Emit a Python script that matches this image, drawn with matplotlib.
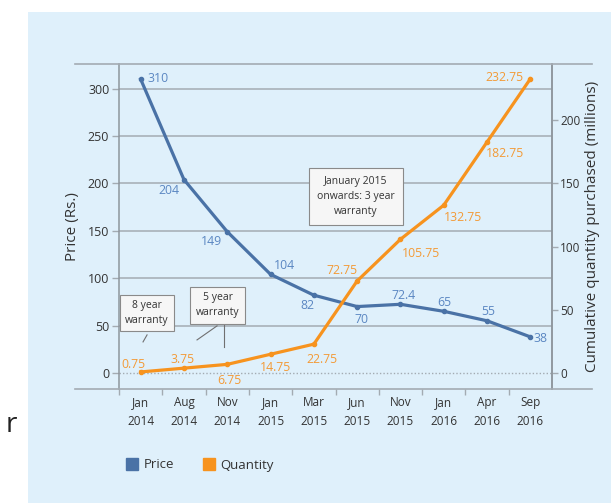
import matplotlib
matplotlib.use('Agg')
import matplotlib.pyplot as plt
from matplotlib.lines import Line2D
from matplotlib.patches import Rectangle

# chart data
months = ['Jan\n2014', 'Aug\n2014', 'Nov\n2014', 'Jan\n2015', 'Mar\n2015',
          'Jun\n2015', 'Nov\n2015', 'Jan\n2016', 'Apr\n2016', 'Sep\n2016']
price = [310, 204, 149, 104, 82, 70, 72.4, 65, 55, 38]
quantity = [0.75, 3.75, 6.75, 14.75, 22.75, 72.75, 105.75, 132.75, 182.75, 232.75]
right_ticks = [0, 50, 100, 150, 200]

# label offsets in pixels (dx, dy)
price_off = [(17, 1), (-15, -11), (-16, -10), (14, 9), (-6, -10),
             (4, -13), (3, 9), (1, 9), (1, 9), (10, -2)]
qty_off = [(-7, 7), (-1, 9), (2, -16), (5, -13), (8, -15),
           (-15, 10), (21, -14), (19, -12), (18, -11), (-26, 1)]

BLUE = '#4a72a6'
BLUE_TXT = '#5b87c2'
ORANGE = '#f7931e'
ORANGE_TXT = '#f39a36'
GRID = '#a3abb2'
TXT = '#333333'
BG = '#dff0fb'

plt.rcParams['font.family'] = ['Open Sans', 'DejaVu Sans']

fig = plt.figure(figsize=(6.11, 5.03), dpi=100)
fig.patches.append(Rectangle((28 / 611, 0), 1, 1 - 12 / 503, transform=fig.transFigure,
                             facecolor=BG, edgecolor='none', zorder=-10))

ax = fig.add_axes([119 / 611, 1 - 389 / 503, (552 - 119) / 611, (389 - 64) / 503])
ax.set_facecolor('none')
x = list(range(len(months)))

ax.set_xlim(-0.5, len(months) - 0.5)
ax.set_ylim(-17, 326)
ax.set_yticks([0, 50, 100, 150, 200, 250, 300])
for v in [50, 100, 150, 200, 250, 300]:
    ax.axhline(v, color=GRID, lw=1.1, zorder=0)
ax.axhline(0, color=GRID, lw=1.0, ls=(0, (1, 1.5)), zorder=0)

ax.plot(x, price, color=BLUE, lw=2.3, marker='o', ms=3, zorder=3)
for xi, v, (dx, dy) in zip(x, price, price_off):
    ax.annotate(f'{v:g}', (xi, v), xytext=(dx, dy), textcoords='offset pixels',
                ha='center', va='center', fontsize=8.8, color=BLUE_TXT)

ax.set_xticks(x)
ax.set_xticklabels(months, fontsize=8.5, color=TXT, linespacing=1.6)
ax.set_xticks([i + 0.5 for i in x[:-1]] + [-0.5], minor=True)
ax.tick_params(axis='x', which='major', length=0, pad=5)
ax.tick_params(axis='x', which='minor', length=4, color=GRID, width=1)
ax.tick_params(axis='y', length=5, color=GRID, width=1, labelsize=9, labelcolor=TXT, pad=2)
ax.set_ylabel('Price (Rs.)', fontsize=11, color=TXT, labelpad=6)

for s in ['top', 'bottom']:
    ax.spines[s].set_visible(False)
for s in ['left', 'right']:
    ax.spines[s].set_color('#8e969d')
    ax.spines[s].set_linewidth(1.1)

ax2 = ax.twinx()
ax2.set_ylim(-17 * 0.75, 326 * 0.75)
ax2.set_yticks(right_ticks)
ax2.tick_params(axis='y', length=4, color=GRID, width=1, labelsize=8.5, labelcolor=TXT, pad=2)
for s in ['top', 'bottom', 'left']:
    ax2.spines[s].set_visible(False)
ax2.spines['right'].set_color('#8e969d')
ax2.spines['right'].set_linewidth(1.1)
ax2.plot(x, quantity, color=ORANGE, lw=2.3, marker='o', ms=3, zorder=3)
for xi, v, (dx, dy) in zip(x, quantity, qty_off):
    ax2.annotate(f'{v:g}', (xi, v), xytext=(dx, dy), textcoords='offset pixels',
                 ha='center', va='center', fontsize=8.8, color=ORANGE_TXT)
ax2.set_ylabel('Cumulative quantity purchased (millions)', fontsize=11, color=TXT,
               labelpad=3)

# frame lines above and below the plot area
for yy in [64, 389]:
    fig.add_artist(Line2D([75 / 611, 592 / 611], [1 - yy / 503] * 2, color=GRID, lw=1.2,
                          transform=fig.transFigure))

# warranty call-outs
box = dict(boxstyle='square,pad=0.5', facecolor='#f6f6f6', edgecolor='#8a8a8a', lw=0.8)
ax.text(0.136, 63.3, '8 year\nwarranty', ha='center', va='center', fontsize=7.5,
        color=TXT, bbox=box, linespacing=1.5, zorder=5)
ax.text(1.775, 71.2, '5 year\nwarranty', ha='center', va='center', fontsize=7.5,
        color=TXT, bbox=box, linespacing=1.5, zorder=5)
ax.text(4.97, 186, 'January 2015\nonwards: 3 year\nwarranty', ha='center', va='center',
        fontsize=7.5, color=TXT, bbox=dict(boxstyle='square,pad=0.8', facecolor='#f6f6f6',
                                           edgecolor='#8a8a8a', lw=0.8),
        linespacing=1.5, zorder=5)
ax.plot([0.148, 0.055], [40.1, 32.7], color='#707070', lw=0.8)
ax.plot([1.764, 1.302], [49.6, 34.8], color='#707070', lw=0.8)
ax.plot([1.926, 1.926], [50.6, 27.4], color='#707070', lw=0.8)

handles = [Line2D([], [], ls='', marker='s', ms=9, color=BLUE, label='Price'),
           Line2D([], [], ls='', marker='s', ms=9, color=ORANGE, label='Quantity')]
fig.legend(handles=handles, loc='center left', bbox_to_anchor=(115 / 611, 1 - 465 / 503),
           ncol=2, frameon=False, fontsize=9.5, handlelength=0.8, handletextpad=0.5,
           columnspacing=2.2, labelcolor=TXT)

fig.text(6 / 611, 1 - 425 / 503, 'r', fontsize=20, color='#222222', va='center')

fig.savefig('out.png', dpi=100)
